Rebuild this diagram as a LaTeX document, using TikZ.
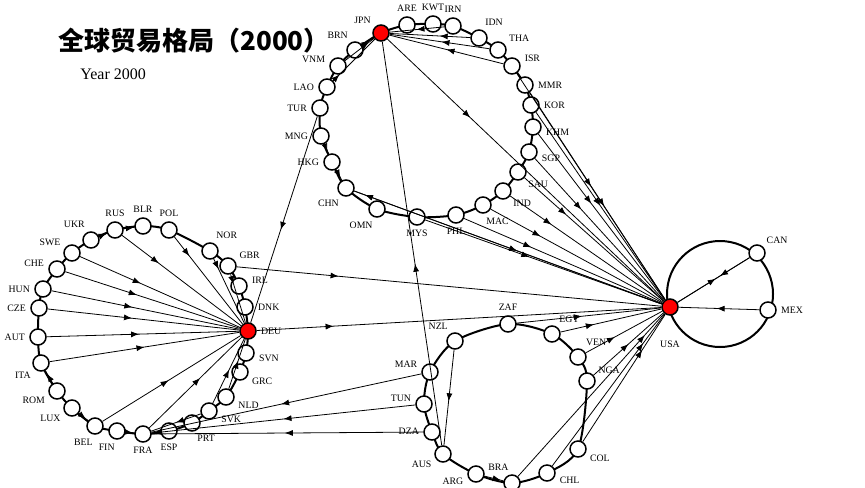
\documentclass[tikz,border=0pt]{standalone}
\usepackage{fontspec}
\setmainfont{Liberation Serif}
\newfontfamily\cjkfont{Noto Sans CJK SC}
\usepackage{xcolor}
\definecolor{hubred}{RGB}{255, 0, 0}
\definecolor{redblack}{RGB}{0, 0, 0}
\usetikzlibrary{arrows.meta, decorations.markings, backgrounds}

\begin{document}
\begin{tikzpicture}[x=0.5pt, y=-0.5pt, >={Latex[length=4pt, width=3pt]},
    font=\fontsize{4.9}{5}\selectfont,
    pais/.style={circle, draw=redblack, line width=0.75pt, fill=white,
        minimum size=8pt, inner sep=0pt},
    hub/.style={pais, fill=hubred},
    anillo/.style={line width=1pt, redblack},
    flujo/.style={line width=0.4pt, redblack, postaction={decorate},
        decoration={markings, mark=at position #1 with {\arrow{>}}}},
    flujo/.default=0.5,
    every label/.style={inner sep=0.5pt},
    label distance=1.5pt]

\useasboundingbox (0,0) rectangle (865,487);

% =====================================================
% TITULO
% =====================================================
\node[anchor=west, inner sep=0pt, font={\cjkfont\bfseries\fontsize{13}{15}\selectfont}]
    (titulo) at (58,41) {全球贸易格局（2000）};
\node[anchor=west, inner sep=0pt, font=\fontsize{8}{9}\selectfont]
    (anio) at (80,74) {Year 2000};

% =====================================================
% NODOS
% =====================================================

% --- Asia (centro JPN) ---
\node[hub, label={140:JPN}] (JPN) at (381,33) {};
\foreach \n/\x/\y/\a in {ARE/407/25/90, KWT/433/24/90, IRN/453/26/90,
    IDN/479/38/65, THA/498/50/35, ISR/512/66/15, MMR/525/85/0,
    KOR/531/105/0, KHM/533/127/-5, SGP/529/152/-10, SAU/518/172/-40,
    IND/503/191/-40, MAC/483/205/-80, PHL/456/215/-90, MYS/417/217/-90,
    OMN/377/209/-105, CHN/346/188/-120, HKG/332/162/180, MNG/321/136/182,
    TUR/320/108/180, LAO/327/87/180, VNM/338/66/170, BRN/355/50/120} {
    \node[pais, label={\a:\n}] (\n) at (\x,\y) {};
}

% --- Europa (centro DEU) ---
\node[hub, label={0:DEU}] (DEU) at (248,331) {};
\foreach \n/\x/\y/\a in {RUS/115/230/90, BLR/143/226/90, POL/169/230/90,
    UKR/91/240/115, SWE/72/253/150, CHE/57/269/175, HUN/43/289/180,
    CZE/39/308/180, AUT/38/337/180, ITA/41/363/-140, ROM/57/391/-155,
    LUX/72/408/-150, BEL/95/426/-95, FIN/117/431/-95, FRA/143/434/-90,
    ESP/169/431/-90, PRT/192/423/-70, SVK/209/411/-20, NLD/226/397/-20,
    GRC/240/372/-25, SVN/246/353/-5, DNK/245/307/0, IRL/239/286/5,
    GBR/228/266/30, NOR/210/251/65} {
    \node[pais, label={\a:\n}] (\n) at (\x,\y) {};
}

% --- Sur ---
\foreach \n/\x/\y/\a in {NZL/455/341/120, ZAF/508/324/90, EGY/552/334/60,
    VEN/578/357/55, NGA/587/381/30, COL/578/449/-25, CHL/547/473/-15,
    BRA/512/483/100, ARG/476/474/-165, AUS/443/454/-150, DZA/432/432/178,
    TUN/424/404/175, MAR/430/372/165} {
    \node[pais, label={\a:\n}] (\n) at (\x,\y) {};
}

% --- America del Norte (centro USA) ---
\node[hub, label={[label distance=12pt]-90:USA}] (USA) at (670,307) {};
\node[pais, label={45:CAN}] (CAN) at (757,253) {};
\node[pais, label={0:MEX}] (MEX) at (768,310) {};
\coordinate (cusa) at (720,294);

% --- Anillos ---
\begin{scope}[on background layer]
    \draw[anillo] plot[smooth cycle] coordinates {(JPN.center) (ARE.center)
        (KWT.center) (IRN.center) (IDN.center) (THA.center) (ISR.center)
        (MMR.center) (KOR.center) (KHM.center) (SGP.center) (SAU.center)
        (IND.center) (MAC.center) (PHL.center) (MYS.center) (OMN.center)
        (CHN.center) (HKG.center) (MNG.center) (TUR.center) (LAO.center)
        (VNM.center) (BRN.center)};
    \draw[anillo] plot[smooth cycle] coordinates {(DEU.center) (SVN.center)
        (GRC.center) (NLD.center) (SVK.center) (PRT.center) (ESP.center)
        (FRA.center) (FIN.center) (BEL.center) (LUX.center) (ROM.center)
        (ITA.center) (AUT.center) (CZE.center) (HUN.center) (CHE.center)
        (SWE.center) (UKR.center) (RUS.center) (BLR.center) (POL.center)
        (NOR.center) (GBR.center) (IRL.center) (DNK.center)};
    \draw[anillo] plot[smooth cycle] coordinates {(NZL.center) (ZAF.center)
        (EGY.center) (VEN.center) (NGA.center) (COL.center) (CHL.center)
        (BRA.center) (ARG.center) (AUS.center) (DZA.center) (TUN.center)
        (MAR.center)};
    \draw[anillo] (cusa) circle[radius=53];
\end{scope}

% =====================================================
% FLUJOS
% =====================================================

% --- Hacia USA ---
\foreach \s/\p in {ISR/0.5, MMR/0.55, KOR/0.5, KHM/0.42, SGP/0.36,
    SAU/0.3, IND/0.27, MAC/0.29, PHL/0.34, MYS/0.44, CHN/0.53, JPN/0.3,
    ZAF/0.45, EGY/0.33, VEN/0.38, NGA/0.5, COL/0.72, CHL/0.81, BRA/0.87,
    GBR/0.24, DEU/0.19, CAN/0.41, MEX/0.53} {
    \draw[flujo=\p] (\s) -- (USA);
}
\draw[flujo=0.965] (USA) -- (CHN);
\draw[flujo=0.53] (USA) -- (CAN);

% --- Hacia JPN ---
\foreach \s/\p in {IRN/0.51, IDN/0.38, THA/0.48, ISR/0.5, BRN/0.6,
    VNM/0.8, LAO/0.15, AUS/0.45} {
    \draw[flujo=\p] (\s) -- (JPN);
}

% --- Hacia DEU ---
\foreach \s/\p in {RUS/0.31, POL/0.22, SWE/0.38, CHE/0.41, HUN/0.43,
    CZE/0.44, AUT/0.48, ITA/0.5, BEL/0.48, FRA/0.55, SVK/0.52, NLD/0.57,
    NOR/0.16, GBR/0.2, TUR/0.55} {
    \draw[flujo=\p] (\s) -- (DEU);
}

% --- Hacia FRA ---
\foreach \s/\p in {MAR/0.52, TUN/0.5, DZA/0.51, ESP/0.8, SVK/0.5, FIN/0.8} {
    \draw[flujo=\p] (\s) -- (FRA);
}

% --- Vecinos en los anillos ---
\draw[flujo=0.75] (MNG) -- (HKG);
\draw[flujo=0.75] (HKG) -- (CHN);
\draw[flujo=0.95] (UKR) -- (RUS);
\draw[flujo=0.95] (RUS) -- (BLR);
\draw[flujo=0.75] (ROM) -- (ITA);
\draw[flujo=0.75] (LUX) -- (BEL);
\draw[flujo=0.54] (NZL) -- (AUS);
\draw[flujo=0.85] (ARG) -- (BRA);

\end{tikzpicture}
\end{document}
